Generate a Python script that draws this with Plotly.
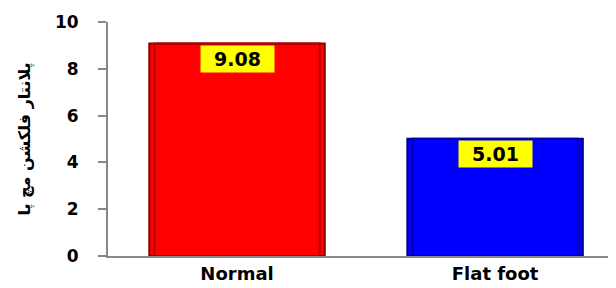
import plotly.graph_objects as go

categories = ["Normal", "Flat foot"]
values = [9.08, 5.01]
bar_colors = ["#ff0000", "#0000ff"]
edge_colors = ["#8b0000", "#00008b"]
inner_colors = ["#b00000", "#0000b0"]
y_title = "پلانتار فلکشن مچ پا"

fig = go.Figure()
fig.add_trace(go.Bar(
    x=categories, y=values, width=0.68,
    marker=dict(color=bar_colors, line=dict(color=edge_colors, width=2)),
    hoverinfo="skip",
))
fig.add_trace(go.Bar(
    x=categories, y=values, width=0.64,
    marker=dict(color="rgba(0,0,0,0)", line=dict(color=inner_colors, width=2)),
    hoverinfo="skip",
))
for c, v in zip(categories, values):
    fig.add_annotation(
        x=c, y=v, yshift=-1, text=f"<b>{v:.2f}</b>", showarrow=False,
        yanchor="top", bgcolor="#ffff00", width=71, height=24, borderpad=1,
        font=dict(family="DejaVu Sans", size=19, color="black"),
    )

fig.update_layout(
    width=608, height=280,
    margin=dict(l=100, r=4, t=12, b=23),
    paper_bgcolor="white", plot_bgcolor="white",
    showlegend=False, barmode="overlay",
    xaxis=dict(
        range=[-0.5, 1.453],
        showline=True, linecolor="#888888", linewidth=2,
        tickfont=dict(family="DejaVu Sans", size=18, color="black"),
        ticks="", tickprefix="<b>", ticksuffix="</b>",
    ),
    yaxis=dict(
        range=[0, 10], dtick=2, showgrid=False, zeroline=False,
        showline=True, linecolor="#888888", linewidth=2,
        ticks="outside", ticklen=8, tickcolor="#888888", tickwidth=2,
        tickfont=dict(family="DejaVu Sans", size=17, color="black"),
        tickprefix="<b>", ticksuffix="</b>", ticklabelstandoff=16,
        title=dict(text=f"<b>{y_title}</b>", font=dict(family="DejaVu Sans", size=16, color="black"), standoff=20),
    ),
)
fig.write_html("out.html")
